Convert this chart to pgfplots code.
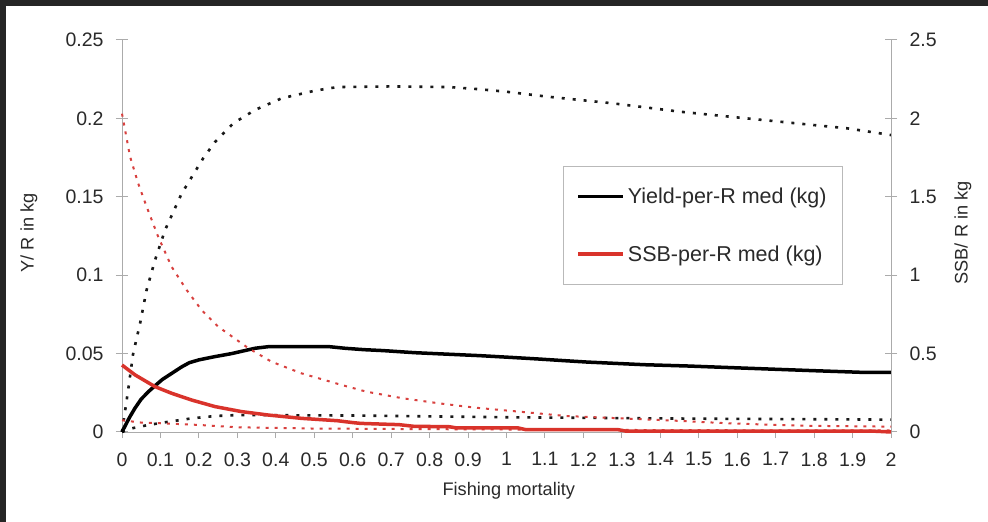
\documentclass[border=0pt]{standalone}
\usepackage{pgfplots}
\pgfplotsset{compat=1.18}
\usepackage{fontspec}
\setmainfont{Liberation Sans}
\definecolor{axgray}{HTML}{ABABAB}
\definecolor{tickcol}{HTML}{2A2A2A}
\definecolor{redsolid}{HTML}{D9332B}
\definecolor{reddot}{HTML}{D8403E}
\begin{document}
\begin{tikzpicture}
\useasboundingbox (0,0) rectangle (988bp,522bp);
\fill[white] (0,0) rectangle (988bp,522bp);
\pgfplotsset{
  common/.style={
    at={(122bp,90bp)}, anchor=south west, scale only axis,
    width=769bp, height=392bp,
    xmin=0, xmax=2,
    /pgf/number format/assume math mode=true,
    /pgf/number format/fixed,
    /pgf/number format/precision=2,
    tick label style={font=\fontsize{19.5bp}{22bp}\selectfont, text=tickcol},
    label style={font=\fontsize{18.2bp}{21bp}\selectfont, text=tickcol},
    axis line style={axgray, line width=1bp},
    every tick/.style={axgray, line width=1bp},
    clip=false,
  }
}
% x axis only
\begin{axis}[common,
  ymin=0, ymax=0.25,
  axis y line=none, axis x line*=bottom,
  xtick={0,0.1,...,2.01},
  xtick align=outside, major tick length=6bp,
  xticklabel style={yshift=-11bp},
  xlabel={Fishing mortality},
  xlabel style={at={(axis description cs:0.503,-0.1505)}, anchor=center},
]
\end{axis}
% left y axis and yield series
\begin{axis}[common,
  ymin=0, ymax=0.25,
  axis y line*=left, axis x line=none,
  ytick={0,0.05,0.1,0.15,0.2,0.25},
  ytick align=center, major tick length=12bp,
  yticklabel style={xshift=-9bp},
  ylabel={Y/ R in kg},
  ylabel style={at={(axis description cs:-0.121,0.508)}, anchor=center},
]
% Yield-per-R upper (dotted)
\addplot[black!90, line width=2.6bp, dash pattern=on 3bp off 8bp] coordinates {
(0,0) (0.016,0.0268) (0.029,0.050) (0.047,0.0693) (0.064,0.0906) (0.086,0.1097)
(0.112,0.1288) (0.155,0.152) (0.211,0.1745) (0.242,0.185) (0.29,0.197)
(0.346,0.2054) (0.415,0.2128) (0.502,0.2177) (0.56,0.2200) (0.7,0.2204)
(0.85,0.2200) (0.93,0.2186) (1.0,0.2170) (1.105,0.2139) (1.277,0.2096)
(1.45,0.2043) (1.625,0.2000) (1.797,0.1958) (1.885,0.1937) (2.0,0.1894)};
% Yield-per-R lower (dotted)
\addplot[black!90, line width=2.6bp, dash pattern=on 3bp off 8bp] coordinates {
(0,0) (0.025,0.0023) (0.069,0.0045) (0.112,0.0062) (0.181,0.0087) (0.242,0.0102)
(0.3,0.0108) (0.6,0.0105) (1.0,0.0094) (1.5,0.0085) (2.0,0.0079)};
% Yield-per-R median
\addplot[black, line width=3.5bp] coordinates {
(0,0) (0.01,0.0048) (0.02,0.0095) (0.034,0.0153) (0.05,0.0210) (0.07,0.0260)
(0.086,0.0295) (0.105,0.0335) (0.13,0.0375) (0.155,0.0415) (0.175,0.0442)
(0.2,0.0460) (0.24,0.0480) (0.285,0.0500)
(0.346,0.0534) (0.38,0.0544) (0.54,0.0544) (0.58,0.0534) (0.63,0.0525)
(0.68,0.0519) (0.76,0.0506) (0.84,0.0497) (0.93,0.0487) (1.01,0.0476)
(1.08,0.0466) (1.15,0.0455) (1.21,0.0446) (1.28,0.0438) (1.36,0.0429)
(1.47,0.0421) (1.59,0.0410) (1.70,0.0400) (1.80,0.0391) (1.93,0.0380) (2.0,0.0380)};
\end{axis}
% right y axis and SSB series
\begin{axis}[common,
  ymin=0, ymax=2.5,
  axis y line*=right, axis x line=none,
  ytick={0,0.5,1,1.5,2,2.5},
  ytick align=center, major tick length=12bp,
  yticklabel style={xshift=9bp},
  ylabel={SSB/ R in kg},
  ylabel style={at={(axis description cs:1.0936,0.508)}, anchor=center},
  legend style={at={(axis description cs:0.5735,0.6786)}, anchor=north west,
    draw=gray!55, line width=0.8bp, fill=white,
    font=\fontsize{21.5bp}{25bp}\selectfont, text=tickcol,
    inner xsep=13bp, inner ysep=20bp, row sep=36bp, cells={anchor=west},
    nodes={inner xsep=3bp}},
  legend image code/.code={\draw[#1] (0bp,0bp) -- (45bp,0bp);},
]
\addlegendimage{black, line width=3bp}
\addlegendentry{Yield-per-R med (kg)}
% SSB upper (dotted)
\addplot[reddot, line width=2bp, dash pattern=on 3bp off 6bp, forget plot] coordinates {
(0,2.03) (0.021,1.756) (0.042,1.586) (0.064,1.437) (0.094,1.246) (0.129,1.054)
(0.168,0.906) (0.207,0.778) (0.25,0.672) (0.329,0.534) (0.389,0.448) (0.467,0.374)
(0.571,0.300) (0.636,0.257) (0.73,0.215) (0.824,0.183) (0.919,0.155) (1.032,0.130)
(1.155,0.102) (1.298,0.087) (1.44,0.072) (1.58,0.055) (1.77,0.040) (2.0,0.034)};
% SSB lower (dotted)
\addplot[reddot, line width=2bp, dash pattern=on 3bp off 6bp, forget plot] coordinates {
(0,0.075) (0.05,0.060) (0.11,0.055) (0.2,0.045) (0.3,0.030) (0.5,0.022)
(0.8,0.018) (1.0,0.016) (1.3,0.013) (1.6,0.011) (2.0,0.010)};
% SSB median
\addplot[redsolid, line width=3.5bp] coordinates {
(0,0.427) (0.034,0.364) (0.086,0.289) (0.129,0.247) (0.181,0.204) (0.242,0.162)
(0.311,0.130) (0.381,0.108) (0.467,0.087) (0.56,0.072) (0.6,0.060) (0.62,0.055)
(0.68,0.050) (0.72,0.047) (0.76,0.036) (0.85,0.034) (0.87,0.026) (1.03,0.026)
(1.05,0.015) (1.29,0.015) (1.31,0.006) (1.95,0.006) (2.0,0.0)};
\addlegendentry{SSB-per-R med (kg)}
\end{axis}
\draw[line width=6bp, black!85] (3bp,0bp) -- (3bp,519bp) -- (988bp,519bp);
\end{tikzpicture}
\end{document}
